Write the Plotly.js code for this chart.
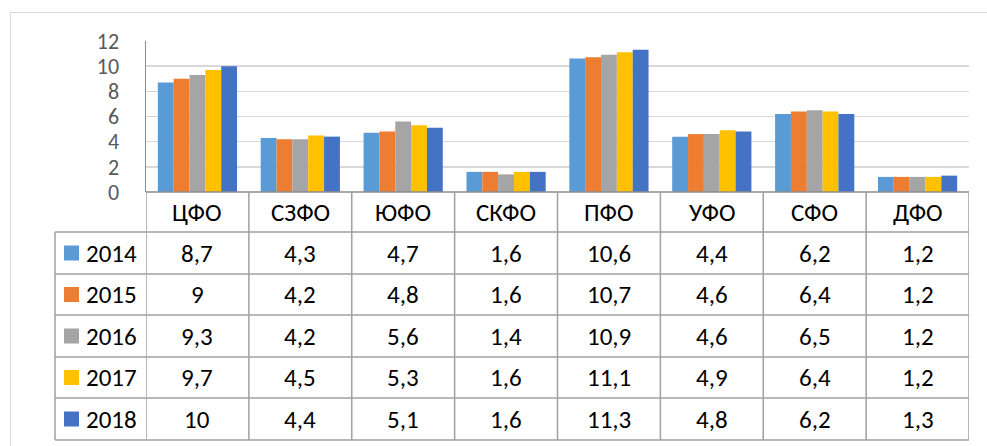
<!DOCTYPE html>
<html>
<head>
<meta charset="utf-8">
<script src="https://cdn.plot.ly/plotly-3.0.1.min.js"></script>
<style>html,body{margin:0;padding:0;background:#fff;}#chart{width:987px;height:446px;}</style>
</head>
<body>
<div id="chart"></div>
<script>
const categories = ['ЦФО', 'СЗФО', 'ЮФО', 'СКФО', 'ПФО', 'УФО', 'СФО', 'ДФО'];
const years = ['2014', '2015', '2016', '2017', '2018'];
const v2014 = [8.7, 4.3, 4.7, 1.6, 10.6, 4.4, 6.2, 1.2];
const v2015 = [9, 4.2, 4.8, 1.6, 10.7, 4.6, 6.4, 1.2];
const v2016 = [9.3, 4.2, 5.6, 1.4, 10.9, 4.6, 6.5, 1.2];
const v2017 = [9.7, 4.5, 5.3, 1.6, 11.1, 4.9, 6.4, 1.2];
const v2018 = [10, 4.4, 5.1, 1.6, 11.3, 4.8, 6.2, 1.3];
const seriesValues = [v2014, v2015, v2016, v2017, v2018];
const colors = ['#5B9BD5', '#ED7D31', '#A5A5A5', '#FFC000', '#4472C4'];
const yTicks = [0, 2, 4, 6, 8, 10, 12];

const W = 987, H = 446;
const px = x => x / W;
const py = y => 1 - y / H;
const FONT = 'Calibri, Carlito, "Open Sans", sans-serif';
const fmt = v => String(v).replace('.', ',');

const traces = years.map((yr, i) => ({
  type: 'bar', name: yr, x: categories, y: seriesValues[i],
  marker: {color: colors[i]}, hoverinfo: 'skip'
}));

const shapes = [];
const annotations = [];
const tableLine = {color: '#A0A0A0', width: 1.5};
// outer chart border
shapes.push({type: 'line', xref: 'paper', yref: 'paper', x0: px(10), x1: px(987), y0: py(12.5), y1: py(12.5), line: {color: '#D9D9D9', width: 1}});
shapes.push({type: 'line', xref: 'paper', yref: 'paper', x0: px(10.5), x1: px(10.5), y0: py(12.5), y1: 0, line: {color: '#D9D9D9', width: 1}});

const rowBounds = [192, 232, 274, 315, 357, 398, 440];
const xLeft = 146, xRight = 969, legLeft = 55;
// horizontal table lines
shapes.push({type: 'line', xref: 'paper', yref: 'paper', x0: px(xLeft), x1: px(xRight), y0: py(192), y1: py(192), line: {color: '#8C8C8C', width: 1.5}});
for (let r = 1; r < rowBounds.length; r++) {
  shapes.push({type: 'line', xref: 'paper', yref: 'paper', x0: px(legLeft), x1: px(xRight), y0: py(rowBounds[r]), y1: py(rowBounds[r]), line: tableLine});
}
// vertical lines at category boundaries
for (let i = 0; i <= categories.length; i++) {
  shapes.push({type: 'line', xref: 'x', yref: 'paper', x0: i - 0.5, x1: i - 0.5, y0: py(192), y1: py(440), line: tableLine});
}
shapes.push({type: 'line', xref: 'paper', yref: 'paper', x0: px(legLeft), x1: px(legLeft), y0: py(232), y1: py(440), line: tableLine});

// category labels
const labelY = (rowBounds[0] + rowBounds[1]) / 2;
categories.forEach(c => annotations.push({xref: 'x', yref: 'paper', x: c, y: py(labelY), text: c, showarrow: false, xanchor: 'center', yanchor: 'middle', font: {family: FONT, size: 25, color: '#000'}}));
// data rows
years.forEach((yr, r) => {
  const cy = (rowBounds[r + 1] + rowBounds[r + 2]) / 2;
  shapes.push({type: 'rect', xref: 'paper', yref: 'paper', x0: px(64), x1: px(79), y0: py(cy - 7.5), y1: py(cy + 7.5), fillcolor: colors[r], line: {width: 0}});
  annotations.push({xref: 'paper', yref: 'paper', x: px(84), y: py(cy), text: yr, showarrow: false, xanchor: 'left', yanchor: 'middle', font: {family: FONT, size: 25, color: '#000'}});
  categories.forEach((c, k) => annotations.push({xref: 'x', yref: 'paper', x: c, y: py(cy), text: fmt(seriesValues[r][k]), showarrow: false, xanchor: 'center', yanchor: 'middle', font: {family: FONT, size: 25, color: '#000'}}));
});

const layout = {
  width: W, height: H,
  margin: {l: 0, r: 0, t: 0, b: 0},
  paper_bgcolor: '#fff', plot_bgcolor: '#fff',
  showlegend: false,
  barmode: 'group', bargap: 0.23, bargroupgap: 0,
  xaxis: {domain: [px(xLeft), px(xRight)], type: 'category', range: [-0.5, categories.length - 0.5],
          showticklabels: false, showgrid: false, zeroline: false, showline: false, fixedrange: true},
  yaxis: {domain: [py(192), py(41)], range: [0, 12], tickvals: yTicks, ticktext: yTicks.map(String),
          showgrid: true, gridcolor: '#D9D9D9', gridwidth: 1.5, zeroline: false,
          showline: true, linecolor: '#8C8C8C', linewidth: 1.5, ticks: '', ticklabelstandoff: 21,
          tickfont: {family: FONT, size: 22, color: '#595959'}, fixedrange: true},
  shapes: shapes,
  annotations: annotations
};
Plotly.newPlot('chart', traces, layout, {displayModeBar: false, staticPlot: true});
</script>
</body>
</html>
